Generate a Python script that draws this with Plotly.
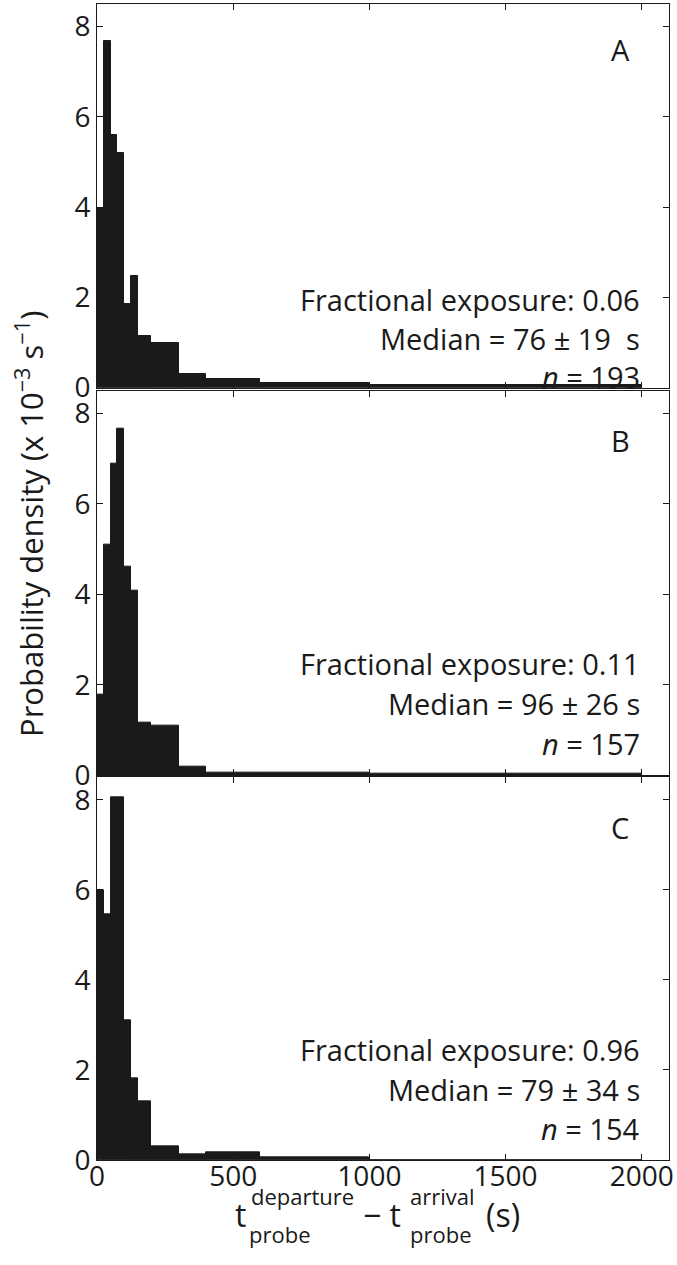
import plotly.graph_objects as go

# ---------------- data ----------------
bin_edges = [0, 25, 50, 75, 100, 125, 150, 200, 300, 400, 600, 1000, 2000]
density_A = [3.96, 7.68, 5.59, 5.19, 1.85, 2.48, 1.15, 0.98, 0.31, 0.20, 0.11, 0.05]
density_B = [1.79, 5.10, 6.89, 7.65, 4.60, 4.08, 1.16, 1.09, 0.20, 0.07, 0.05, 0.04]
density_C = [6.00, 5.46, 8.05, 8.05, 3.11, 1.82, 1.30, 0.31, 0.13, 0.18, 0.07, 0.00]
panel_labels = ["A", "B", "C"]
exposure = ["0.06", "0.11", "0.96"]
medians = ["76 ± 19  s", "96 ± 26 s", "79 ± 34 s"]
counts = ["193", "157", "154"]
x_ticks = [0, 500, 1000, 1500, 2000]
y_ticks = [0, 2, 4, 6, 8]

# ---------------- layout geometry ----------------
W, H = 677, 1265
ML, MR, MT, MB = 97, 4, 3, 105
PW = W - ML - MR
PH = H - MT - MB
FONT = "Open Sans"
INK = "#1a1a1a"


def px(xpix):
    return (xpix - ML) / PW


def py(ypix):
    return (H - MB - ypix) / PH


panel_px = [(3, 387), (390, 775), (777, 1160)]  # top, bottom pixel rows
text_rows = [(299, 338, 376), (663, 703, 743), (1049, 1089, 1128)]
letter_rows = [49, 440, 827]

centers = [(a + b) / 2 for a, b in zip(bin_edges[:-1], bin_edges[1:])]
widths = [b - a for a, b in zip(bin_edges[:-1], bin_edges[1:])]

fig = go.Figure()
densities = [density_A, density_B, density_C]
annotations = []
for i, dens in enumerate(densities):
    k = "" if i == 0 else str(i + 1)
    fig.add_trace(go.Bar(
        x=centers, y=dens, width=widths,
        marker=dict(color=INK, line=dict(color=INK, width=1)),
        xaxis="x" + k, yaxis="y" + k, showlegend=False, hoverinfo="skip",
    ))
    top, bot = panel_px[i]
    fig.update_layout(**{
        "xaxis" + k: dict(
            range=[0, 2100], anchor="y" + k, domain=[0, 1],
            tickvals=x_ticks, ticks="inside", ticklen=6, tickcolor=INK,
            showline=True, linecolor=INK, linewidth=1, mirror="ticks",
            showgrid=False, zeroline=False,
            showticklabels=(i == 2), ticklabeloverflow="allow",
            ticklabelstandoff=-9,
            tickfont=dict(family=FONT, size=28, color=INK),
            matches=None if i == 0 else "x",
        ),
        "yaxis" + k: dict(
            range=[0, 8.5], anchor="x" + k, domain=[py(bot), py(top)],
            tickvals=y_ticks, ticks="inside", ticklen=6, tickcolor=INK,
            showline=True, linecolor=INK, linewidth=1, mirror="ticks",
            showgrid=False, zeroline=False, ticklabeloverflow="allow",
            tickfont=dict(family=FONT, size=28, color=INK),
        ),
    })
    r1, r2, r3 = text_rows[i]
    for txt, yy in [("Fractional exposure: " + exposure[i], r1),
                    ("Median = " + medians[i], r2),
                    ("<i>n</i> = " + counts[i], r3)]:
        annotations.append(dict(
            text=txt, x=px(646), y=py(yy), xref="paper", yref="paper",
            xanchor="right", yanchor="middle", showarrow=False,
            font=dict(family=FONT, size=29, color=INK)))
    annotations.append(dict(
        text=panel_labels[i], x=px(624), y=py(letter_rows[i]), xref="paper", yref="paper",
        xanchor="center", yanchor="middle", showarrow=False,
        font=dict(family=FONT, size=29, color=INK)))

# y-axis title
annotations.append(dict(
    text="Probability density (x 10<sup>−3</sup> s<sup>−1</sup>)",
    x=px(29), y=py(523), xref="paper", yref="paper", textangle=-90,
    xanchor="center", yanchor="middle", showarrow=False,
    font=dict(family=FONT, size=31, color=INK)))

# x-axis title pieces (t with stacked super/subscripts)
big = dict(family=FONT, size=32, color=INK)
small = dict(family=FONT, size=22, color=INK)
xt_parts = [
    ("t", 242, 1215, big, "center"),
    ("departure", 250, 1196, small, "left"),
    ("probe", 248, 1234, small, "left"),
    ("− t", 384, 1215, big, "center"),
    ("arrival", 410, 1196, small, "left"),
    ("probe", 410, 1234, small, "left"),
    ("(s)", 506, 1215, big, "center"),
]
for txt, xx, yy, f, anc in xt_parts:
    annotations.append(dict(
        text=txt, x=px(xx), y=py(yy), xref="paper", yref="paper",
        xanchor=anc, yanchor="middle", showarrow=False, font=f))

fig.update_layout(
    width=W, height=H,
    margin=dict(l=ML, r=MR, t=MT, b=MB),
    paper_bgcolor="white", plot_bgcolor="white",
    bargap=0, barmode="overlay",
    annotations=annotations,
    font=dict(family=FONT, color=INK),
    hovermode=False,
)

fig.write_html("out.html", config={"displayModeBar": False},
               post_script="document.body.style.margin='0px';")
